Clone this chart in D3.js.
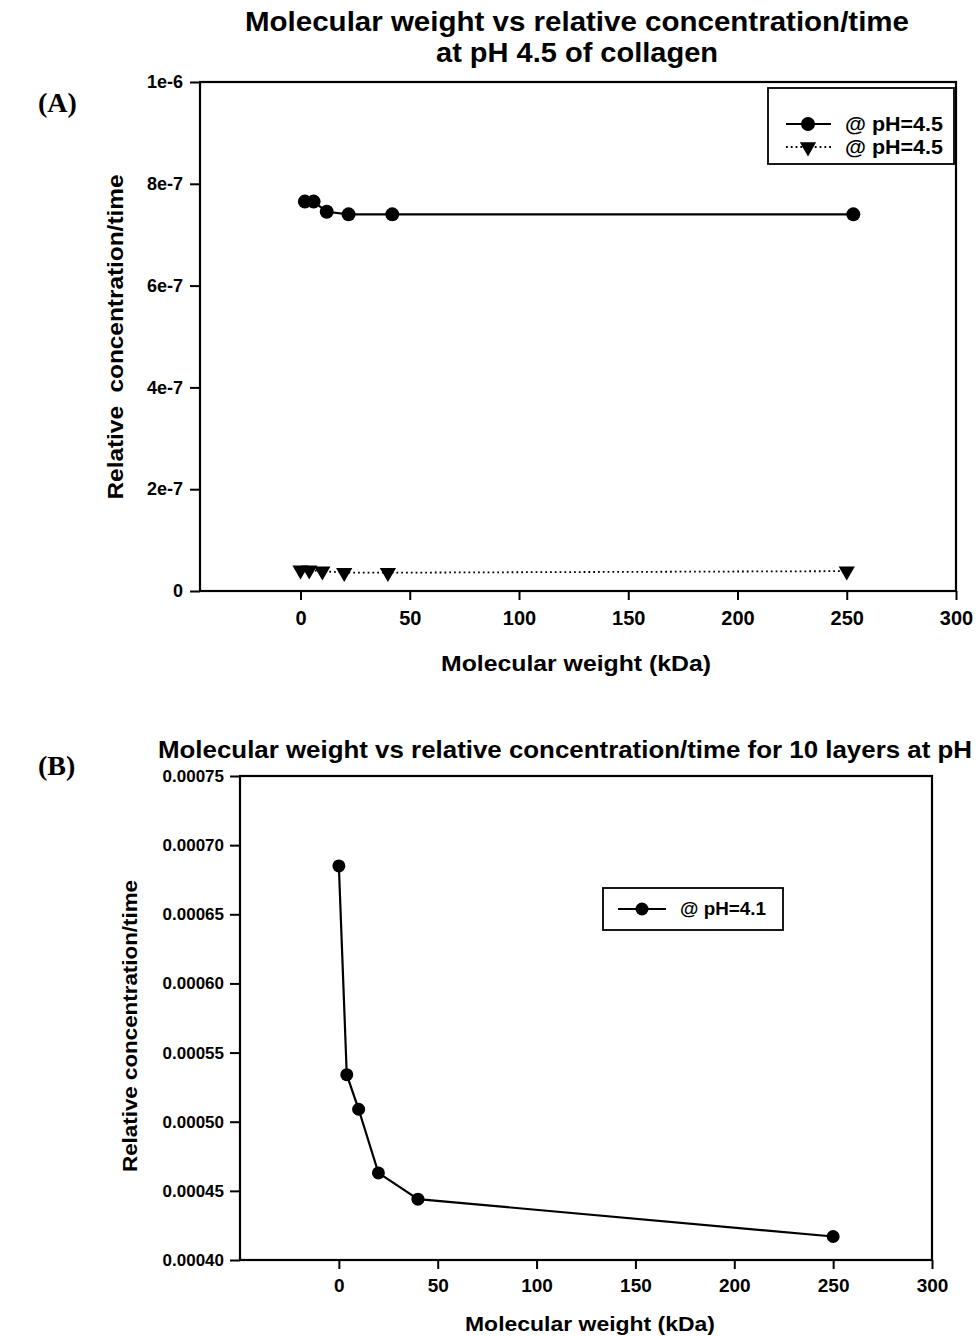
<!DOCTYPE html>
<html>
<head>
<meta charset="utf-8">
<script src="https://cdn.jsdelivr.net/npm/d3@7/dist/d3.min.js"></script>
<style>
body { margin: 0; background: #fff; }
text { font-family: "Liberation Sans", Arial, sans-serif; font-weight: bold; fill: #000; }
</style>
</head>
<body>
<svg id="fig" width="976" height="1336"></svg>
<script>
//panel A: circles and triangles
var mwCircleA = [2, 6, 12, 22, 42, 253];
var relCircleA = [7.65e-7, 7.65e-7, 7.45e-7, 7.4e-7, 7.4e-7, 7.4e-7];
var mwTriA = [0, 4, 10, 20, 40, 250];
var relTriA = [4.1e-8, 4.1e-8, 3.9e-8, 3.6e-8, 3.6e-8, 3.9e-8];
var xTicksA = [0, 50, 100, 150, 200, 250, 300];
var yTicksA = [0, 2e-7, 4e-7, 6e-7, 8e-7, 1e-6];

//panel B
var mwB = [0, 4, 10, 20, 40, 250];
var relB = [0.000685, 0.000534, 0.000509, 0.000463, 0.000444, 0.000417];
var xTicksB = [0, 50, 100, 150, 200, 250, 300];
var yTicksB = [0.0004, 0.00045, 0.0005, 0.00055, 0.0006, 0.00065, 0.0007, 0.00075];

var svg = d3.select("#fig");

var zip = (xs, ys) => xs.map((d, i) => ({x: d, y: ys[i]}));

var triangle = d3.symbol().type(d3.symbolTriangle).size(115);

function drawAxes(g, x, y, xTicks, yTicks, yFmt, opt) {
    let [x0, x1] = x.range();
    let [y0, y1] = y.range();

    g.append("rect")
        .attr("x", x0).attr("y", y1)
        .attr("width", x1 - x0).attr("height", y0 - y1)
        .attr("fill", "none")
        .attr("stroke", "#000")
        .attr("stroke-width", 2.2);

    let xAxis = d3.axisBottom(x).tickValues(xTicks).tickSize(9)
        .tickPadding(opt.xPad).tickFormat(d3.format("d"));
    let gx = g.append("g").attr("transform", "translate(0," + y0 + ")").call(xAxis);
    gx.select(".domain").remove();
    gx.selectAll("line").attr("stroke-width", 2);
    gx.selectAll("text").style("font-size", opt.xFont + "px");

    let yAxis = d3.axisLeft(y).tickValues(yTicks).tickSize(10)
        .tickPadding(opt.yPad).tickFormat(yFmt);
    let gy = g.append("g").attr("transform", "translate(" + x0 + ",0)").call(yAxis);
    gy.select(".domain").remove();
    gy.selectAll("line").attr("stroke-width", 2);
    gy.selectAll("text").style("font-size", opt.yFont + "px");
}

// ---------- (A) ----------
var gA = svg.append("g");
var xA = d3.scaleLinear().domain([-46, 300]).range([200, 956]);
var yA = d3.scaleLinear().domain([0, 1e-6]).range([591, 82]);

drawAxes(gA, xA, yA, xTicksA, yTicksA, d => d === 0 ? "0" : d3.format(".0e")(d),
    {xPad: 11, yPad: 7, xFont: 20, yFont: 18});

var lineA = d3.line().x(d => xA(d.x)).y(d => yA(d.y));

gA.append("path")
    .datum(zip(mwTriA, relTriA))
    .attr("d", lineA)
    .attr("fill", "none")
    .attr("stroke", "#000")
    .attr("stroke-width", 1.8)
    .attr("stroke-dasharray", "1.8,3");

gA.selectAll(".tri")
    .data(zip(mwTriA, relTriA))
    .join("path")
    .attr("class", "tri")
    .attr("d", triangle)
    .attr("transform", d => "translate(" + xA(d.x) + "," + yA(d.y) + ") rotate(180)")
    .attr("fill", "#000");

gA.append("path")
    .datum(zip(mwCircleA, relCircleA))
    .attr("d", lineA)
    .attr("fill", "none")
    .attr("stroke", "#000")
    .attr("stroke-width", 2.2);

gA.selectAll(".dot")
    .data(zip(mwCircleA, relCircleA))
    .join("circle")
    .attr("class", "dot")
    .attr("cx", d => xA(d.x))
    .attr("cy", d => yA(d.y))
    .attr("r", 7)
    .attr("fill", "#000");

//legend A
var legA = gA.append("g");
legA.append("rect")
    .attr("x", 768).attr("y", 88).attr("width", 186).attr("height", 76)
    .attr("fill", "#fff").attr("stroke", "#000").attr("stroke-width", 1.8);
legA.append("line").attr("x1", 786).attr("x2", 831).attr("y1", 124).attr("y2", 124)
    .attr("stroke", "#000").attr("stroke-width", 2.2);
legA.append("circle").attr("cx", 808).attr("cy", 124).attr("r", 7);
legA.append("line").attr("x1", 786).attr("x2", 831).attr("y1", 147).attr("y2", 147)
    .attr("stroke", "#000").attr("stroke-width", 1.8).attr("stroke-dasharray", "1.8,3");
legA.append("path").attr("d", triangle)
    .attr("transform", "translate(808,147) rotate(180)");
legA.append("text").attr("x", 845).attr("y", 131)
    .attr("textLength", 98).attr("lengthAdjust", "spacingAndGlyphs")
    .style("font-size", "21px").text("@ pH=4.5");
legA.append("text").attr("x", 845).attr("y", 154)
    .attr("textLength", 98).attr("lengthAdjust", "spacingAndGlyphs")
    .style("font-size", "21px").text("@ pH=4.5");

//titles A
gA.append("text").attr("x", 577).attr("y", 31).attr("text-anchor", "middle")
    .attr("textLength", 664).attr("lengthAdjust", "spacingAndGlyphs")
    .style("font-size", "27px").text("Molecular weight vs relative concentration/time");
gA.append("text").attr("x", 577).attr("y", 62).attr("text-anchor", "middle")
    .attr("textLength", 282).attr("lengthAdjust", "spacingAndGlyphs")
    .style("font-size", "27px").text("at pH 4.5 of collagen");
gA.append("text").attr("x", 576).attr("y", 671).attr("text-anchor", "middle")
    .attr("textLength", 270).attr("lengthAdjust", "spacingAndGlyphs")
    .style("font-size", "22px").text("Molecular weight (kDa)");
gA.append("text")
    .attr("transform", "translate(123,337) rotate(-90)")
    .attr("text-anchor", "middle")
    .attr("textLength", 325).attr("lengthAdjust", "spacingAndGlyphs")
    .style("font-size", "22px").style("white-space", "pre")
    .text("Relative  concentration/time");
gA.append("text").attr("x", 38).attr("y", 112)
    .style("font-family", "'Liberation Serif', 'Times New Roman', serif")
    .style("font-size", "28px").text("(A)");

// ---------- (B) ----------
var gB = svg.append("g");
var xB = d3.scaleLinear().domain([-50, 300]).range([240, 932]);
var yB = d3.scaleLinear().domain([0.0004, 0.00075]).range([1260, 776]);

drawAxes(gB, xB, yB, xTicksB, yTicksB, d3.format(".5f"),
    {xPad: 10, yPad: 6, xFont: 19, yFont: 17});

var lineB = d3.line().x(d => xB(d.x)).y(d => yB(d.y));

gB.append("path")
    .datum(zip(mwB, relB))
    .attr("d", lineB)
    .attr("fill", "none")
    .attr("stroke", "#000")
    .attr("stroke-width", 2.2);

gB.selectAll(".dot")
    .data(zip(mwB, relB))
    .join("circle")
    .attr("class", "dot")
    .attr("cx", d => xB(d.x))
    .attr("cy", d => yB(d.y))
    .attr("r", 6.5)
    .attr("fill", "#000");

//legend B
var legB = gB.append("g");
legB.append("rect")
    .attr("x", 603).attr("y", 888).attr("width", 180).attr("height", 42)
    .attr("fill", "#fff").attr("stroke", "#000").attr("stroke-width", 1.8);
legB.append("line").attr("x1", 618).attr("x2", 666).attr("y1", 909).attr("y2", 909)
    .attr("stroke", "#000").attr("stroke-width", 2.2);
legB.append("circle").attr("cx", 642).attr("cy", 909).attr("r", 6.5);
legB.append("text").attr("x", 680).attr("y", 915)
    .attr("textLength", 86).attr("lengthAdjust", "spacingAndGlyphs")
    .style("font-size", "18px").text("@ pH=4.1");

//titles B
gB.append("text").attr("x", 158).attr("y", 758)
    .attr("textLength", 814).attr("lengthAdjust", "spacingAndGlyphs")
    .style("font-size", "24px")
    .text("Molecular weight vs relative concentration/time for 10 layers at pH");
gB.append("text").attr("x", 590).attr("y", 1331).attr("text-anchor", "middle")
    .attr("textLength", 250).attr("lengthAdjust", "spacingAndGlyphs")
    .style("font-size", "21px").text("Molecular weight (kDa)");
gB.append("text")
    .attr("transform", "translate(137,1026) rotate(-90)")
    .attr("text-anchor", "middle")
    .attr("textLength", 292).attr("lengthAdjust", "spacingAndGlyphs")
    .style("font-size", "20px")
    .text("Relative concentration/time");
gB.append("text").attr("x", 38).attr("y", 775)
    .style("font-family", "'Liberation Serif', 'Times New Roman', serif")
    .style("font-size", "28px").text("(B)");
</script>
</body>
</html>
